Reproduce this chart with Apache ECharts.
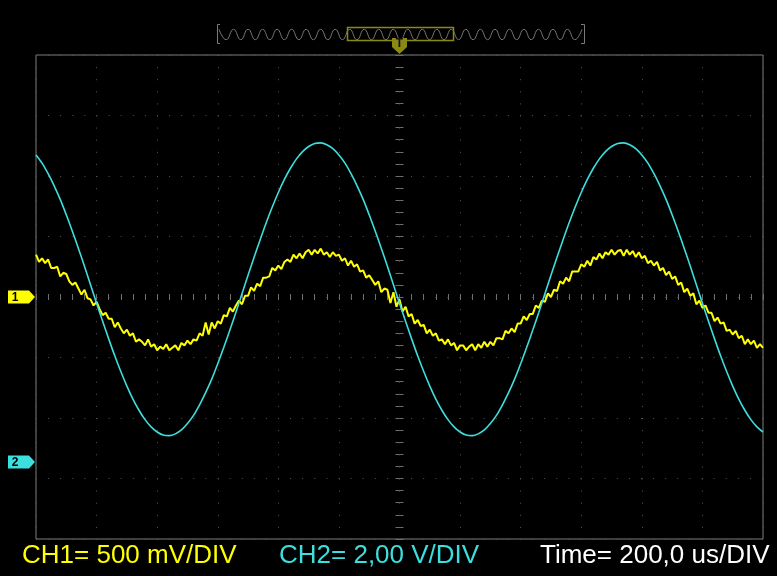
<!DOCTYPE html>
<html><head><meta charset="utf-8">
<script src="https://cdn.jsdelivr.net/npm/echarts@6.0.0/dist/echarts.min.js"></script>
<style>html,body{margin:0;padding:0;background:#000;}#c{width:777px;height:576px;}</style>
</head><body><div id="c"></div>
<script>
// ---- data ----
const timeStartUs = -1200;      // left edge of screen (trigger at 0)
const timeEndUs = 1200;         // right edge
const timePerDivUs = 200;
const ch1StepUs = 10;
const ch2StepUs = 20;
const ch1VoltsPerDiv = 0.5;
const ch2VoltsPerDiv = 2;
const verticalDivs = 8;
const ch2GroundDiv = -2.727;    // CH2 ground marker, divisions from centre

const ch1Volts = [
 0.35,0.29,0.32,0.28,0.31,0.24,0.24,0.25,0.17,0.20,
 0.19,0.13,0.10,0.12,0.07,0.02,0.06,-0.01,-0.02,-0.07,
 -0.04,-0.10,-0.15,-0.13,-0.18,-0.18,-0.25,-0.21,-0.26,-0.30,
 -0.27,-0.32,-0.30,-0.37,-0.35,-0.37,-0.40,-0.35,-0.41,-0.39,
 -0.44,-0.41,-0.43,-0.39,-0.44,-0.42,-0.40,-0.44,-0.38,-0.40,
 -0.36,-0.39,-0.35,-0.36,-0.30,-0.32,-0.21,-0.31,-0.21,-0.26,
 -0.20,-0.22,-0.15,-0.16,-0.09,-0.12,-0.07,-0.03,-0.06,0.01,
 0.01,0.08,0.05,0.11,0.09,0.16,0.16,0.17,0.24,0.22,
 0.26,0.23,0.29,0.31,0.29,0.35,0.32,0.36,0.32,0.37,
 0.39,0.35,0.39,0.36,0.40,0.35,0.37,0.33,0.37,0.34,
 0.35,0.30,0.32,0.26,0.30,0.25,0.27,0.21,0.22,0.16,
 0.18,0.14,0.10,0.13,0.04,0.07,0.06,-0.05,0.04,-0.08,
 -0.02,-0.12,-0.08,-0.16,-0.14,-0.22,-0.19,-0.24,-0.23,-0.30,
 -0.27,-0.32,-0.30,-0.36,-0.35,-0.39,-0.35,-0.40,-0.38,-0.44,
 -0.40,-0.40,-0.44,-0.41,-0.39,-0.44,-0.39,-0.42,-0.37,-0.41,
 -0.37,-0.40,-0.34,-0.34,-0.35,-0.28,-0.30,-0.26,-0.29,-0.22,
 -0.22,-0.16,-0.19,-0.14,-0.14,-0.07,-0.09,-0.03,-0.04,0.03,
 0.00,0.06,0.05,0.13,0.11,0.16,0.13,0.21,0.21,0.21,
 0.27,0.25,0.30,0.26,0.33,0.31,0.36,0.32,0.37,0.35,
 0.39,0.35,0.38,0.39,0.34,0.39,0.35,0.38,0.33,0.37,
 0.32,0.34,0.28,0.30,0.26,0.29,0.22,0.24,0.18,0.21,
 0.15,0.17,0.10,0.12,0.04,0.07,0.01,0.03,-0.06,-0.03,
 -0.09,-0.07,-0.13,-0.13,-0.20,-0.17,-0.22,-0.21,-0.28,-0.27,
 -0.31,-0.28,-0.34,-0.32,-0.39,-0.35,-0.39,-0.36,-0.42,-0.39,
 -0.42
];

const ch2Volts = [
 10.15,9.88,9.53,9.13,8.68,8.17,7.63,7.06,6.47,5.86,
 5.25,4.65,4.07,3.51,2.99,2.51,2.08,1.71,1.40,1.16,
 0.99,0.89,0.87,0.93,1.06,1.27,1.54,1.89,2.29,2.74,
 3.25,3.79,4.36,4.95,5.56,6.17,6.77,7.35,7.91,8.43,
 8.91,9.34,9.71,10.02,10.26,10.43,10.53,10.55,10.49,10.36,
 10.15,9.88,9.53,9.13,8.68,8.17,7.63,7.06,6.47,5.86,
 5.25,4.65,4.07,3.51,2.99,2.51,2.08,1.71,1.40,1.16,
 0.99,0.89,0.87,0.93,1.06,1.27,1.54,1.89,2.29,2.74,
 3.25,3.79,4.36,4.95,5.56,6.17,6.77,7.35,7.91,8.43,
 8.91,9.34,9.71,10.02,10.26,10.43,10.53,10.55,10.49,10.36,
 10.15,9.88,9.53,9.13,8.68,8.17,7.63,7.06,6.47,5.86,
 5.25,4.65,4.07,3.51,2.99,2.51,2.08,1.71,1.40,1.16,
 0.99
];

// overview (memory) strip at the top: alternating crests/troughs
const overviewWave = [
 1,-1,1,-1,1,-1,1,-1,1,-1,1,-1,1,-1,1,-1,1,-1,1,-1,1,-1,1,-1,1,-1,
 1,-1,1,-1,1,-1,1,-1,1,-1,1,-1,1,-1,1,-1,1,-1,1,-1,1,-1,1,-1,1
];

const labelCh1 = 'CH1= 500 mV/DIV';
const labelCh2 = 'CH2= 2,00 V/DIV';
const labelTime = 'Time= 200,0 us/DIV';

// ---- colours ----
const YELLOW = '#ffff00';
const CYAN = '#3cdede';
const OLIVE = '#8a8a12';
const FRAME = '#7f7f7f';
const DOT = '#555555';
const TICK = '#6e6e6e';

const ch1Max = verticalDivs / 2 * ch1VoltsPerDiv;
const ch2Min = (-verticalDivs / 2 - ch2GroundDiv) * ch2VoltsPerDiv;
const ch2Max = (verticalDivs / 2 - ch2GroundDiv) * ch2VoltsPerDiv;

const chart = echarts.init(document.getElementById('c'), null, {renderer: 'canvas'});

const hidden = {axisLine: {show: false}, axisTick: {show: false}, axisLabel: {show: false}, splitLine: {show: false}};
const dotted = {show: true, lineStyle: {color: DOT, width: 1, type: [1, 11.1]}};

const tickAxisX = (inside) => ({
  gridIndex: 0, type: 'value', min: timeStartUs, max: timeEndUs, interval: timePerDivUs / 5,
  axisLine: {show: false, onZero: true, onZeroAxisIndex: 0},
  axisTick: {show: true, inside: inside, length: 3, lineStyle: {color: TICK, width: 1}},
  axisLabel: {show: false}, splitLine: {show: false}
});
const tickAxisY = (inside) => ({
  gridIndex: 0, type: 'value', min: -verticalDivs / 2, max: verticalDivs / 2, interval: 0.2,
  axisLine: {show: false, onZero: true, onZeroAxisIndex: 0},
  axisTick: {show: true, inside: inside, length: 4, lineStyle: {color: TICK, width: 1}},
  axisLabel: {show: false}, splitLine: {show: false}
});

chart.setOption({
  backgroundColor: '#000',
  animation: false,
  grid: [
    {left: 36, top: 55, width: 727, height: 484, show: true, borderColor: FRAME, borderWidth: 1, backgroundColor: 'transparent'},
    {left: 219, top: 29, width: 363, height: 11}
  ],
  xAxis: [
    Object.assign({gridIndex: 0, type: 'value', min: timeStartUs, max: timeEndUs, interval: timePerDivUs}, hidden, {splitLine: dotted}),
    tickAxisX(false),
    tickAxisX(true),
    Object.assign({gridIndex: 1, type: 'value', min: 0, max: overviewWave.length - 1}, hidden)
  ],
  yAxis: [
    Object.assign({gridIndex: 0, type: 'value', min: -ch1Max, max: ch1Max, interval: ch1VoltsPerDiv}, hidden, {splitLine: dotted}),
    Object.assign({gridIndex: 0, type: 'value', min: ch2Min, max: ch2Max}, hidden),
    tickAxisY(false),
    tickAxisY(true),
    Object.assign({gridIndex: 1, type: 'value', min: -1.05, max: 1.05}, hidden)
  ],
  series: [
    {
      name: 'CH1', type: 'line', xAxisIndex: 0, yAxisIndex: 0, showSymbol: false,
      data: ch1Volts.map((v, i) => [timeStartUs + i * ch1StepUs, v]),
      lineStyle: {color: YELLOW, width: 2}, itemStyle: {color: YELLOW}, z: 3
    },
    {
      name: 'CH2', type: 'line', xAxisIndex: 0, yAxisIndex: 1, showSymbol: false, smooth: 0.3,
      data: ch2Volts.map((v, i) => [timeStartUs + i * ch2StepUs, v]),
      lineStyle: {color: CYAN, width: 1.6}, itemStyle: {color: CYAN}, z: 4
    },
    {
      name: 'overview', type: 'line', xAxisIndex: 3, yAxisIndex: 4, showSymbol: false, smooth: true,
      data: overviewWave.map((v, i) => [i, v]),
      lineStyle: {color: '#7a7a7a', width: 1}, itemStyle: {color: '#7a7a7a'}, silent: true
    }
  ]
});

// ---- decorations positioned from the axes ----
const ch1Y = chart.convertToPixel({yAxisIndex: 0}, 0);
const ch2Y = chart.convertToPixel({yAxisIndex: 1}, 0);
const trigX = chart.convertToPixel({xAxisIndex: 0}, 0);

function chMarker(y, color, label) {
  return [
    {type: 'polygon', shape: {points: [[8, y - 6.5], [29, y - 6.5], [35, y], [29, y + 6.5], [8, y + 6.5]]}, style: {fill: color}, z: 10},
    {type: 'text', x: 15, y: y + 0.5, style: {text: label, fill: '#000', font: 'bold 12px "Liberation Sans", Arial, sans-serif', align: 'center', verticalAlign: 'middle', textAlign: 'center', textVerticalAlign: 'middle'}, z: 11}
  ];
}
function bottomText(x, text, color) {
  return {type: 'text', x: x, y: 556, style: {text: text, fill: color, font: '26px "Liberation Sans", Arial, sans-serif', align: 'left', verticalAlign: 'middle', textAlign: 'left', textVerticalAlign: 'middle'}, z: 10};
}

chart.setOption({
  graphic: [
    {type: 'polyline', shape: {points: [[220, 24.5], [217.5, 24.5], [217.5, 43.5], [220, 43.5]]}, style: {stroke: '#7a7a7a', lineWidth: 1, fill: null}},
    {type: 'polyline', shape: {points: [[581, 24.5], [584.5, 24.5], [584.5, 43.5], [581, 43.5]]}, style: {stroke: '#7a7a7a', lineWidth: 1, fill: null}},
    {type: 'rect', shape: {x: 347.5, y: 27.5, width: 106, height: 13}, style: {stroke: OLIVE, fill: null, lineWidth: 1.5}, z: 10},
    {type: 'polygon', shape: {points: [[trigX - 7.5, 38], [trigX + 7.5, 38], [trigX + 7.5, 47], [trigX, 54], [trigX - 7.5, 47]]}, style: {fill: OLIVE}, z: 11},
    {type: 'text', x: trigX, y: 44, style: {text: 'T', fill: '#111', font: 'bold 12px "Liberation Sans", Arial, sans-serif', align: 'center', verticalAlign: 'middle', textAlign: 'center', textVerticalAlign: 'middle'}, z: 12},
    ...chMarker(ch1Y, YELLOW, '1'),
    ...chMarker(ch2Y, CYAN, '2'),
    bottomText(22, labelCh1, YELLOW),
    bottomText(279, labelCh2, CYAN),
    bottomText(540, labelTime, '#ffffff')
  ]
});
</script>
</body></html>
